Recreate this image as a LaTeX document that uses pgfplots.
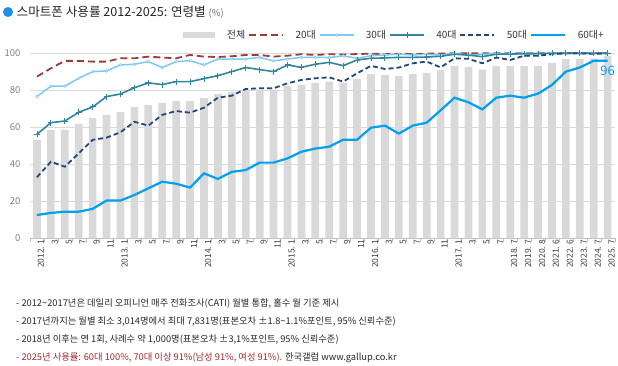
\documentclass[border=0pt]{standalone}
\usepackage{fontspec}
\setmainfont{Noto Sans CJK KR}
\usepackage{pgfplots}
\usepackage{pgfplotstable}
\pgfplotsset{compat=1.18}
\definecolor{cbar}{HTML}{D9D9D9}
\definecolor{c20}{HTML}{9E3A38}
\definecolor{c30}{HTML}{7CC8F6}
\definecolor{c40}{HTML}{31859C}
\definecolor{c50}{HTML}{24477A}
\definecolor{c60}{HTML}{00A0F0}
\definecolor{ctitle}{HTML}{1E8FE6}
\definecolor{cgrid}{HTML}{D9D9D9}
\definecolor{cfoot}{HTML}{9E2A2A}

\pgfplotstableread{
x total a20 a30 a40 a50 a60
0 53.2 87.4 76.6 56.2 33.0 12.6
1 58.6 91.9 82.2 62.5 41.4 13.7
2 58.6 95.9 82.2 63.4 38.7 14.4
3 61.8 95.9 86.5 68.1 45.9 14.4
4 65.0 95.5 90.1 71.0 53.2 15.9
5 66.7 95.5 90.5 76.6 54.4 20.4
6 68.3 97.3 93.7 78.0 57.3 20.4
7 71.0 97.3 94.1 81.4 63.0 23.4
8 72.0 98.2 95.5 84.0 60.9 27.0
9 73.2 97.7 92.3 83.1 66.7 30.6
10 74.2 97.3 95.5 84.7 68.8 29.5
11 74.2 99.1 96.0 84.7 67.9 27.4
12 75.9 98.2 93.7 86.3 70.6 35.1
13 78.0 98.0 96.9 87.9 76.0 32.1
14 79.1 98.4 96.9 90.1 77.1 35.9
15 80.4 99.1 96.9 92.3 80.7 36.9
16 80.4 99.1 97.8 91.2 81.1 40.9
17 80.4 98.2 95.9 90.1 81.1 40.9
18 82.3 98.7 96.9 93.7 83.8 43.2
19 82.9 99.5 97.8 92.4 85.6 46.8
20 84.0 99.1 97.8 94.1 86.5 48.5
21 84.7 99.5 97.7 95.1 87.0 49.5
22 84.1 99.3 98.6 93.3 84.7 53.3
23 86.1 99.6 97.3 96.4 89.2 53.3
24 88.8 99.8 98.7 97.3 93.2 59.8
25 88.3 99.5 99.1 97.5 91.5 60.9
26 87.7 99.8 99.5 97.8 92.3 56.6
27 88.8 99.6 99.1 97.8 94.6 60.9
28 89.4 99.8 99.5 98.0 95.5 62.5
29 91.0 99.9 99.0 98.4 92.4 69.2
30 93.2 100 100 99.5 97.3 76.0
31 92.6 100 99.0 99.0 97.0 73.5
32 91.2 100 99.5 98.2 94.6 69.7
33 93.2 100 99.8 99.5 97.7 76.0
34 93.2 100 99.8 99.6 96.4 77.1
35 93.2 100 100 99.7 98.7 76.0
36 93.2 100 100 99.8 98.7 78.2
37 94.8 100 100 100 99.5 82.9
38 96.9 100 100 100 100 90.1
39 96.9 100 100 100 100 92.3
40 97.3 100 100 100 99.7 96.0
41 98.6 100 100 100 100 96.0
}\datatable

\begin{document}
\begin{tikzpicture}
\path[use as bounding box] (0,0) rectangle (618pt,366pt);
% title
\fill[ctitle] (8pt,354pt) circle (5pt);
\node[anchor=west, inner sep=0pt, text=black!85] at (16.5pt,354pt)
  {\fontsize{12.6}{14}\selectfont 스마트폰 사용률 2012-2025: 연령별 {\fontsize{9.5}{11}\selectfont\color{black!55}(\%)}};
\begin{axis}[
  at={(30pt,127.7pt)}, anchor=south west,
  scale only axis, width=584.6pt, height=185pt,
  xmin=-0.5, xmax=41.5, ymin=0, ymax=100,
  clip=false,
  axis lines*=left,
  axis line style={-, draw=black!25},
  y axis line style={draw=none},
  ytick={0,20,...,100},
  ymajorgrids, grid style={cgrid, line width=0.8pt},
  major tick length=0pt,
  minor tick length=4pt,
  tick align=outside,
  minor xtick={-0.5,0.5,...,41.5},
  minor tick style={draw=black!25},
  xtick={0,...,41},
  xticklabels={2012. 1,3,5,7,9,11,2013. 1,3,5,7,9,11,2014. 1,3,5,7,9,11,2015. 1,3,5,7,9,11,2016. 1,3,5,7,9,11,2017. 1,3,5,7,2018. 7,2019. 7,2020. 8,2021. 6,2022. 6,2023. 7,2024. 7,2025. 7},
  xticklabel style={rotate=90, anchor=east, inner sep=1pt, yshift=-4pt, font=\fontsize{8.5}{9}\selectfont, text=black!75},
  yticklabel style={font=\fontsize{9.5}{10}\selectfont, text=black!50, xshift=-6pt},
  /pgf/number format/assume math mode=true,
  legend columns=6,
  legend style={draw=none, fill=none, at={(0.992,1.099)}, anchor=east,
    font=\fontsize{10}{11}\selectfont, text=black!80,
    /tikz/every odd column/.append style={column sep=8.5pt},
    nodes={inner xsep=3pt, inner ysep=0pt}},
  legend image code/.code={\draw[mark repeat=2,mark phase=2,#1] plot coordinates {(0pt,0pt) (17pt,0pt) (34pt,0pt)};},
]
\addplot[ybar, bar width=7.7pt, fill=cbar, draw=none,
  legend image code/.code={\fill[cbar] (0pt,-3pt) rectangle (32pt,3pt);}]
  table[x=x, y=total] {\datatable};
\addlegendentry{전체}
\addplot[c20, line width=1.8pt, dash pattern=on 7pt off 4pt, no markers] table[x=x, y=a20] {\datatable};
\addlegendentry{20대}
\addplot[c30, line width=1.5pt, mark=*, mark size=1.3pt, mark options={fill=white, draw=c30, line width=0.6pt, solid}] table[x=x, y=a30] {\datatable};
\addlegendentry{30대}
\addplot[c40, line width=1.6pt, mark=+, mark size=3pt, mark options={line width=0.9pt}] table[x=x, y=a40] {\datatable};
\addlegendentry{40대}
\addplot[c50, line width=1.8pt, dash pattern=on 5pt off 3pt, no markers] table[x=x, y=a50] {\datatable};
\addlegendentry{50대}
\addplot[c60, line width=2.2pt, no markers] table[x=x, y=a60] {\datatable};
\addlegendentry{60대+}
\node[anchor=north, text=c60, inner sep=0pt, font=\fontsize{13}{14}\selectfont] at (axis cs:41,96) [yshift=-5pt] {96};
\end{axis}
% footnotes
\begin{scope}[every node/.style={anchor=west, inner sep=0pt, font=\fontsize{9.3}{10}\selectfont}]
\node[text=black!85] at (16pt,63pt) {- 2012\textasciitilde 2017년은 데일리 오피니언 매주 전화조사(CATI) 월별 통합, 홀수 월 기준 제시};
\node[text=black!85] at (16pt,44pt) {- 2017년까지는 월별 최소 3,014명에서 최대 7,831명(표본오차 ±1.8\textasciitilde 1.1\%포인트, 95\% 신뢰수준)};
\node[text=black!85] at (16pt,26pt) {- 2018년 이후는 연 1회, 사례수 약 1,000명(표본오차 ±3,1\%포인트, 95\% 신뢰수준)};
\node at (16pt,8pt) {{\color{cfoot}- 2025년 사용률: 60대 100\%, 70대 이상 91\%(남성 91\%, 여성 91\%).} {\color{black!85}한국갤럽 www.gallup.co.kr}};
\end{scope}
\end{tikzpicture}
\end{document}
